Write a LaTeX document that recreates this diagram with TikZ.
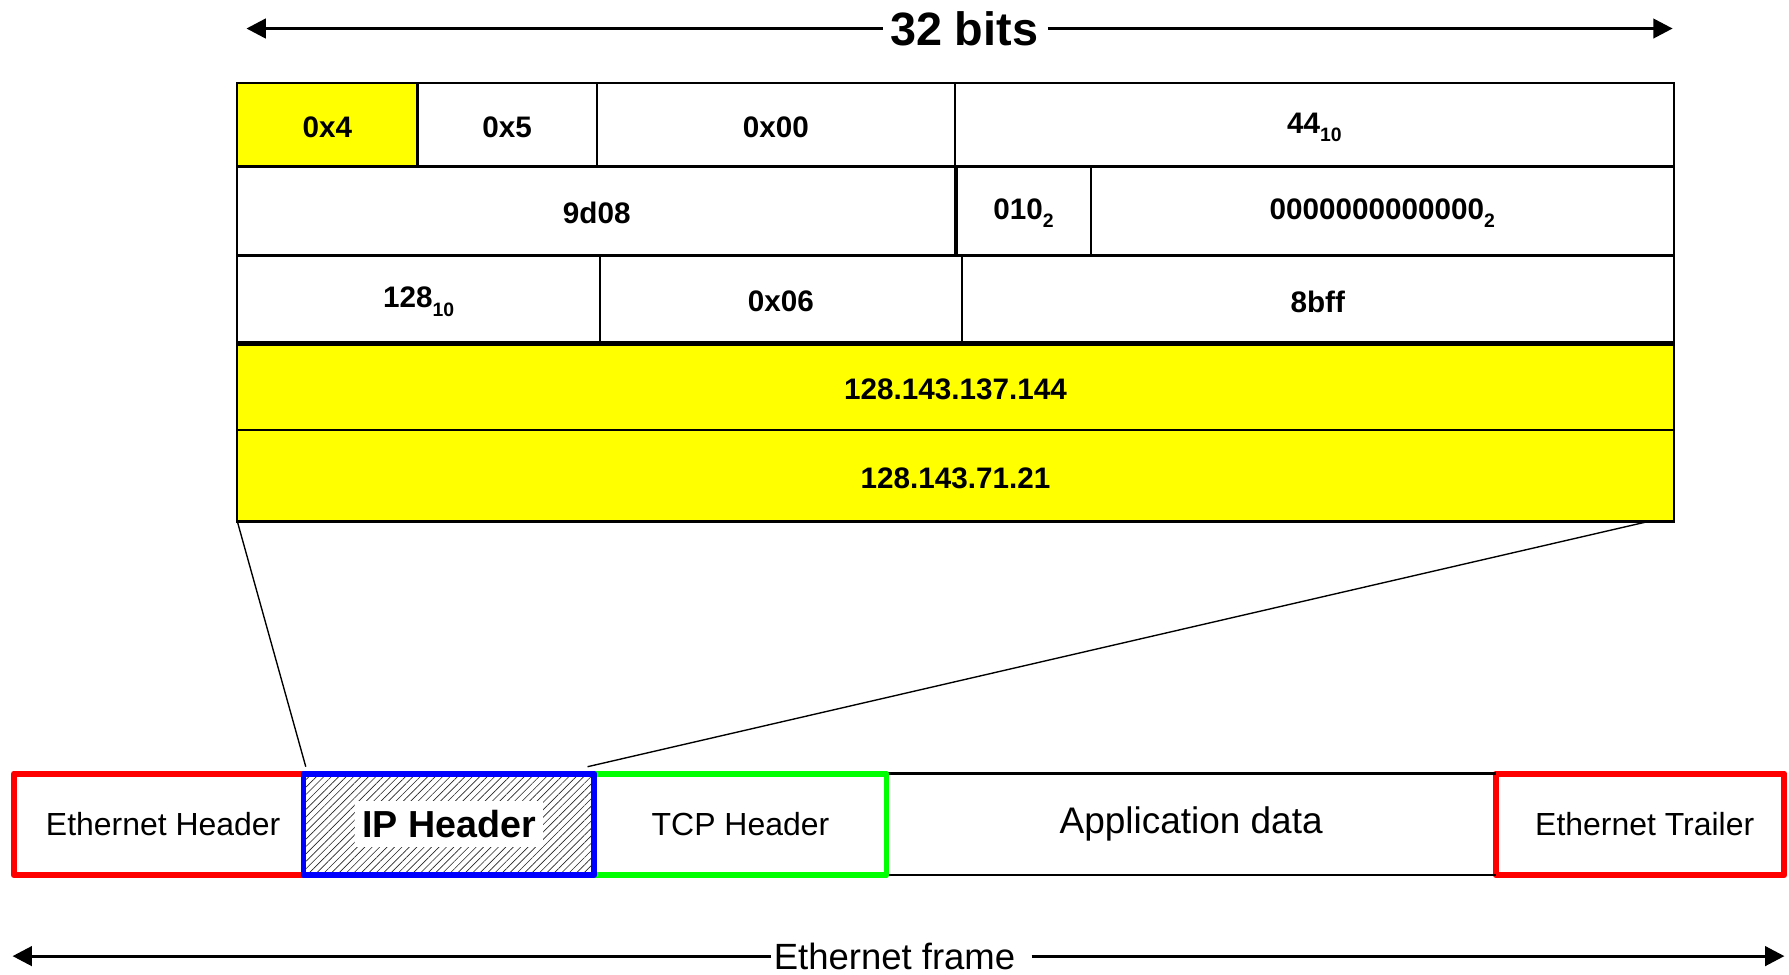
\documentclass[tikz,border=0pt]{standalone}
\usepackage{fontspec}
\setmainfont{Liberation Sans}
\usetikzlibrary{fit,arrows.meta,patterns.meta}
\definecolor{hdryellow}{RGB}{255,255,0}
\definecolor{ethred}{RGB}{255,0,0}
\definecolor{ipblue}{RGB}{0,0,255}
\definecolor{tcpgreen}{RGB}{0,255,0}
% lowered base subscript (e.g. 44 in base 10)
\newcommand{\basesub}[1]{\raisebox{-3.6pt}{\fontsize{8.5}{9}\selectfont #1}}

\begin{document}
\begin{tikzpicture}[x=0.5pt,y=-0.5pt,
  cell/.style={draw=black, line width=1pt, inner sep=0pt, outer sep=0pt},
  yellowcell/.style={cell, fill=hdryellow},
  celltext/.style={font=\fontsize{13}{15}\selectfont\bfseries, inner sep=0pt, yshift=-1pt},
  framebox/.style={line width=2.6pt, line join=round, inner sep=0pt, outer sep=0pt},
  frametext/.style={font=\fontsize{14}{17}\selectfont, inner sep=0pt},
  dimarrow/.style={line width=1.4pt, -{Triangle[length=8.5pt,width=8.5pt]}},
  zoomline/.style={line width=0.6pt},
  sepline/.style={line width=#1}]
\useasboundingbox (0,0) rectangle (1568,854);

% ---- word-width dimension arrow
\node[font=\fontsize{20.5}{24}\selectfont\bfseries, inner xsep=5pt, inner ysep=0pt] (bits) at (845,25) {32 bits};
\coordinate (bitsL) at (216,25);
\coordinate (bitsR) at (1466,25);
\draw[dimarrow] ([xshift=2pt]bits.west) -- (bitsL);
\draw[dimarrow] ([xshift=-1pt]bits.east) -- (bitsR);

% ---- IP header fields, row by row
\node[yellowcell, fit={(208,73) (366,146)}, label={[celltext]center:0x4}] (ver) {};
\node[cell, fit={(366,73) (523,146)}, label={[celltext]center:0x5}] (ihl) {};
\node[cell, fit={(523,73) (837,146)}, label={[celltext]center:0x00}] (tos) {};
\node[cell, fit={(837,73) (1467,146)}, label={[celltext]center:44\basesub{10}}] (len) {};

\node[cell, fit={(208,146) (838,224)}, label={[celltext]center:9d08}] (ident) {};
\node[cell, fit={(838,146) (956,224)}, label={[celltext]center:010\basesub{2}}] (flags) {};
\node[cell, fit={(956,146) (1467,224)}, label={[celltext]center:0000000000000\basesub{2}}] (frag) {};

\node[cell, fit={(208,224) (526,301)}, label={[celltext]center:128\basesub{10}}] (ttl) {};
\node[cell, fit={(526,224) (843,301)}, label={[celltext]center:0x06}] (proto) {};
\node[cell, fit={(843,224) (1467,301)}, label={[celltext]center:8bff}] (csum) {};

\node[yellowcell, fit={(208,301) (1467,377)}, label={[celltext]center:128.143.137.144}] (src) {};
\node[yellowcell, fit={(208,377) (1467,457)}, label={[celltext]center:128.143.71.21}] (dst) {};

% heavier separators
\draw[sepline=1.9pt] (src.north west) -- (src.north east);
\draw[sepline=1.3pt] (ttl.north west) -- (csum.north east);
\draw[sepline=1.3pt] (dst.south west) -- (dst.south east);
\draw[sepline=1.8pt] (flags.north west) -- (flags.south west);

% ---- Ethernet frame
\node[framebox, draw=ethred, fit={(12,678) (266,767)},
      label={[frametext, xshift=2pt]center:Ethernet Header}] (ethhdr) {};
\node[framebox, draw=ethred, fit={(1311,678) (1564,767)},
      label={[frametext, xshift=2pt]center:Ethernet Trailer}] (ethtrl) {};
\node[framebox, fit={(777,678) (1311,767)},
      label={[frametext, font=\fontsize{16.2}{19}\selectfont]center:Application data}] (app) {};
\draw[line width=1.2pt] (app.north west) -- (app.north east);
\draw[line width=1.2pt] (app.south west) -- (app.south east);
\node[framebox, draw=tcpgreen, fit={(521,678) (777,767)},
      label={[frametext]center:TCP Header}] (tcp) {};
\node[framebox, draw=ipblue, fit={(266,678) (521,767)},
      pattern={Lines[angle=45,distance=2.3pt,line width=0.28pt]}, pattern color=black!85] (ip) {};
\node[fill=white, inner xsep=3pt, inner ysep=4pt,
      font=\fontsize{16.5}{20}\selectfont\bfseries] (iptext) at (ip.center) {IP Header};

% ---- zoom lines from the header table to the IP header
\coordinate (ipL) at (268,672);
\coordinate (ipR) at (515,672);
\coordinate (dstR) at (1445,457);
\draw[zoomline] (dst.south west) -- (ipL);
\draw[zoomline] (dstR) -- (ipR);

% ---- frame dimension arrow
\node[font=\fontsize{16}{19}\selectfont, inner xsep=1pt, inner ysep=0pt] (frm) at (784,838) {Ethernet frame};
\coordinate (frmL) at (11,838);
\coordinate (frmR) at (1564,838);
\draw[dimarrow] (frm.west) -- (frmL);
\draw[dimarrow] ([xshift=6pt]frm.east) -- (frmR);
\end{tikzpicture}
\end{document}
